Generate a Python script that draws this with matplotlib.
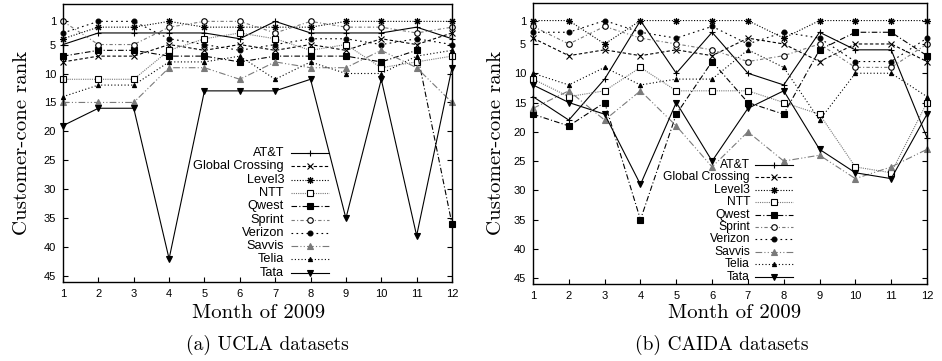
"""Customer-cone rank of large ASes per month of 2009 (UCLA vs CAIDA)."""

import matplotlib
matplotlib.use('Agg')
import matplotlib.pyplot as plt
from matplotlib.lines import Line2D

W, H = 942, 361

months = list(range(1, 13))
names = ['AT&T', 'Global Crossing', 'Level3', 'NTT', 'Qwest',
         'Sprint', 'Verizon', 'Savvis', 'Telia', 'Tata']

# UCLA datasets
ucla_att = [5, 3, 3, 3, 3, 4, 1, 3, 3, 3, 2, 4]
ucla_gc = [8, 7, 7, 5, 6, 5, 6, 5, 6, 4, 5, 3]
ucla_level3 = [4, 2, 2, 1, 2, 2, 2, 2, 1, 1, 1, 1]
ucla_ntt = [11, 11, 11, 6, 4, 3, 4, 6, 5, 9, 8, 7]
ucla_qwest = [7, 6, 6, 7, 7, 8, 7, 7, 7, 8, 6, 36]
ucla_sprint = [1, 5, 5, 2, 1, 1, 3, 1, 2, 2, 3, 2]
ucla_verizon = [3, 1, 1, 4, 5, 6, 5, 4, 4, 5, 4, 5]
ucla_savvis = [15, 15, 15, 9, 9, 11, 8, 9, 9, 6, 9, 15]
ucla_telia = [14, 12, 12, 8, 8, 7, 11, 8, 10, 10, 7, 6]
ucla_tata = [19, 16, 16, 42, 13, 13, 13, 11, 35, 11, 38, 9]

# CAIDA datasets
caida_att = [14, 18, 11, 1, 10, 3, 10, 12, 3, 6, 6, 21]
caida_gc = [4, 7, 6, 7, 6, 7, 4, 5, 8, 5, 5, 8]
caida_level3 = [1, 1, 5, 1, 1, 1, 1, 4, 1, 1, 1, 1]
caida_ntt = [11, 14, 13, 9, 13, 13, 13, 15, 17, 26, 27, 15]
caida_qwest = [17, 19, 15, 35, 17, 8, 15, 17, 6, 3, 3, 7]
caida_sprint = [2, 5, 2, 4, 5, 6, 8, 7, 5, 9, 9, 5]
caida_verizon = [3, 3, 1, 3, 4, 2, 5, 3, 4, 8, 8, 4]
caida_savvis = [16, 13, 18, 13, 19, 26, 20, 25, 24, 28, 26, 23]
caida_telia = [10, 12, 9, 12, 11, 11, 6, 9, 18, 10, 10, 14]
caida_tata = [12, 15, 17, 29, 15, 25, 16, 13, 23, 27, 28, 17]

yticks = [1, 5, 10, 15, 20, 25, 30, 35, 40, 45]

ucla = [ucla_att, ucla_gc, ucla_level3, ucla_ntt, ucla_qwest,
        ucla_sprint, ucla_verizon, ucla_savvis, ucla_telia, ucla_tata]
caida = [caida_att, caida_gc, caida_level3, caida_ntt, caida_qwest,
         caida_sprint, caida_verizon, caida_savvis, caida_telia, caida_tata]

GRAY = '#7a7a7a'
# (linestyle, color, marker, markersize, filled)
STYLES = [
    ('-', 'black', '+', 5, True),
    ((0, (3, 2)), 'black', 'x', 4, True),
    ((0, (1, 1.5)), 'black', (8, 2, 0), 5, True),
    ((0, (1, 1)), GRAY, 's', 4, False),
    ((0, (5, 2, 1, 2)), 'black', 's', 4.5, True),
    ((0, (3, 2, 1, 2)), GRAY, 'o', 4, False),
    ((0, (1.5, 3)), 'black', 'o', 3.5, True),
    ((0, (6, 2, 1, 2, 1, 2)), GRAY, '^', 4.5, True),
    ((0, (1, 2)), 'black', '^', 3, True),
    ('-', 'black', 'v', 4.5, True),
]

SERIF = 'cmr10'
TICKFONT = 'Liberation Sans'


def fx(x):
    return x / W


def fy(y):
    return 1 - y / H


def draw_panel(fig, rect, series, legend):
    ax = fig.add_axes(rect)
    for vals, (ls, col, mk, ms, filled) in zip(series, STYLES):
        ax.plot(months, vals, linestyle=ls, color=col, lw=0.8,
                marker=mk, markersize=ms, markeredgewidth=0.8,
                markerfacecolor=col if filled else 'white',
                markeredgecolor=col if filled else 'black', clip_on=False)
    ax.set_xlim(1, 12)
    ax.set_ylim(46, -2)
    ax.set_xticks(months)
    ax.set_yticks(yticks)
    ax.tick_params(direction='in', length=3.5, width=0.8, labelsize=8,
                   right=True, top=False, pad=5)
    for lab in ax.get_xticklabels() + ax.get_yticklabels():
        lab.set_fontfamily(TICKFONT)
    for sp in ax.spines.values():
        sp.set_linewidth(1.0)

    # key, text on the left and sample line on the right, no frame
    xt, x1, x2, y0, dy, fs = legend
    for i, (name, (ls, col, mk, ms, filled)) in enumerate(zip(names, STYLES)):
        y = y0 + i * dy
        fig.text(fx(xt), fy(y), name, ha='right', va='center',
                 fontsize=fs, family=TICKFONT)
        fig.add_artist(Line2D([fx(x1), fx(x2)], [fy(y), fy(y)], linestyle=ls,
                              color=col, lw=0.8, transform=fig.transFigure))
        fig.add_artist(Line2D([fx((x1 + x2) / 2)], [fy(y)], marker=mk,
                              markersize=ms, markeredgewidth=0.8,
                              markerfacecolor=col if filled else 'white',
                              markeredgecolor=col if filled else 'black',
                              linestyle='none', transform=fig.transFigure))
    return ax


fig = plt.figure(figsize=(W / 100, H / 100), dpi=100)

draw_panel(fig, [fx(63), fy(282), fx(452 - 63), (282 - 4) / H], ucla,
           (284, 291, 329, 153, 13.3, 9.2))
draw_panel(fig, [fx(533), fy(284), fx(927 - 533), (284 - 3) / H], caida,
           (750, 755, 793, 165, 12.4, 8.7))

for cx in (22, 496):
    fig.text(fx(cx), fy(143), 'Customer-cone rank', rotation=90,
             ha='center', va='center', fontsize=15, family=SERIF)
fig.text(fx(259), fy(313), 'Month of 2009', ha='center', va='center',
         fontsize=15, family=SERIF)
fig.text(fx(735), fy(313), 'Month of 2009', ha='center', va='center',
         fontsize=15, family=SERIF)
fig.text(fx(267), fy(345), '(a) UCLA datasets', ha='center', va='center',
         fontsize=14, family=SERIF)
fig.text(fx(722), fy(345), '(b) CAIDA datasets', ha='center', va='center',
         fontsize=14, family=SERIF)

fig.savefig('out.png', dpi=100)
